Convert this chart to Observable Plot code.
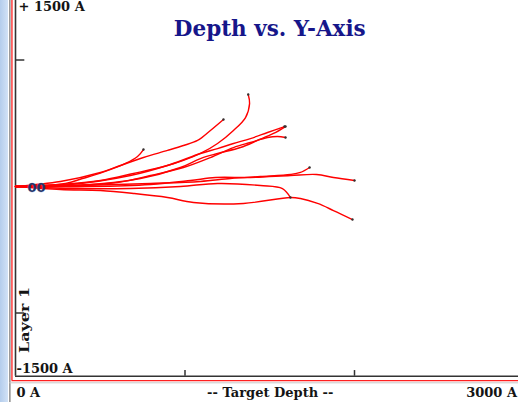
<!DOCTYPE html>
<html>
<head>
<meta charset="utf-8">
<script src="https://cdn.jsdelivr.net/npm/d3@7"></script>
<script src="https://cdn.jsdelivr.net/npm/@observablehq/plot@0.6"></script>
<style>
  html, body { margin: 0; padding: 0; }
  body {
    width: 518px; height: 402px; overflow: hidden;
    background: linear-gradient(to right, #b4cdec 0px, #d2e2f6 8px, #ffffff 8px);
  }
  #chart svg { display: block; background: transparent; }
</style>
</head>
<body>
<div id="chart"></div>
<script>
// Series: target depth (x, Å) and Y offset (Å)
const seriesNames = ["A","B","C","D","E","F","H","I","K","J"];
const depthA = [0, 265, 501, 696, 897, 991, 1091, 1192, 1286, 1357, 1381, 1373];
const yA     = [0, 16, 47, 103, 166, 206, 261, 340, 443, 545, 656, 727];
const depthB = [0, 265, 501, 619, 755, 897, 991, 1074, 1150, 1227];
const yB     = [0, 40, 111, 166, 229, 285, 324, 364, 443, 530];
const depthC = [0, 295, 395, 513, 649, 720, 755];
const yC     = [0, 24, 63, 111, 182, 237, 292];
const depthD = [0, 324, 678, 914, 1091, 1192, 1286, 1386, 1487, 1587];
const yD     = [0, 16, 87, 174, 261, 300, 340, 379, 427, 474];
const depthE = [0, 383, 737, 973, 1091, 1192, 1327, 1428, 1522, 1593];
const yE     = [0, 8, 63, 150, 221, 261, 308, 364, 419, 474];
const depthF = [0, 602, 796, 991, 1150, 1286, 1386, 1487, 1546, 1593];
const yF     = [0, 32, 87, 150, 229, 308, 348, 387, 395, 387];
const depthH = [0, 383, 796, 1091, 1268, 1445, 1622, 1681, 1735];
const yH     = [0, 8, 24, 40, 63, 79, 95, 111, 150];
const depthI = [0, 442, 796, 1032, 1180, 1386, 1622, 1776, 1876, 2000];
const yI     = [0, 0, 16, 47, 71, 71, 87, 95, 71, 47];
const depthK = [0, 324, 678, 973, 1192, 1445, 1575, 1622];
const yK     = [0, -16, -16, 0, 24, 8, -16, -87];
const depthJ = [0, 265, 501, 696, 897, 1050, 1345, 1622, 1681, 1782, 1876, 1988];
const yJ     = [0, -24, -32, -55, -87, -126, -134, -87, -95, -134, -190, -261];

// Axis ticks and labels
const yTicks = [1000, 0, -1000];
const xTicks = [1000, 2000];
const titleText = "Depth vs. Y-Axis";
const yTopLabel = "+ 1500 A";
const yZeroLabel = "00";
const yBottomLabel = "-1500 A";
const layerLabel = "Layer 1";
const xLeftLabel = "0 A";
const xTitle = "-- Target Depth --";
const xRightLabel = "3000 A";

const depths = {A: depthA, B: depthB, C: depthC, D: depthD, E: depthE, F: depthF, H: depthH, I: depthI, K: depthK, J: depthJ};
const ys = {A: yA, B: yB, C: yC, D: yD, E: yE, F: yF, H: yH, I: yI, K: yK, J: yJ};
const rows = [];
for (const s of seriesNames) {
  depths[s].forEach((d, i) => rows.push({series: s, depth: d, y: ys[s][i]}));
}

const serif = "'DejaVu Serif', serif";
const ink = "#141414";

const chart = Plot.plot({
  width: 518,
  height: 402,
  style: {background: "transparent", overflow: "hidden"},
  x: {domain: [0, 3000], range: [15, 523.5], axis: null},
  y: {domain: [-1500, 1500], range: [375.75, -3.75], axis: null},
  marks: [
    // window frame lines
    Plot.ruleX([-33], {y1: -1720, y2: 1500, stroke: "#555", strokeWidth: 1}),
    Plot.ruleX([-21], {y1: -1534, y2: 1500, stroke: "#ff2020", strokeWidth: 1.3}),
    Plot.ruleY([-1534], {x1: -21, x2: 3100, stroke: "#ff2020", strokeWidth: 1.3}),
    Plot.ruleY([-1552], {x1: -33, x2: 3100, stroke: "#c8c8c8", strokeWidth: 1}),
    // axes
    Plot.ruleX([0], {y1: -1500, y2: 1500, stroke: "#333", strokeWidth: 1.6}),
    Plot.ruleY([-1500], {x1: 0, x2: 3100, stroke: "#333", strokeWidth: 1.6}),
    Plot.ruleY(yTicks, {x1: 0, x2: 55, stroke: "#333", strokeWidth: 1.5}),
    Plot.ruleX(xTicks, {y1: -1500, y2: -1455, stroke: "#333", strokeWidth: 1.5}),
    // data
    Plot.line(rows, {x: "depth", y: "y", z: "series", stroke: "#ff0000", strokeWidth: 1.4, curve: "catmull-rom"}),
    Plot.dot(rows, Plot.selectLast({x: "depth", y: "y", z: "series", r: 1.2, fill: "#333", stroke: null})),
    // labels
    Plot.text([yZeroLabel], {x: 0, y: 0, text: d => d, dx: 21, dy: 1, fontFamily: "'DejaVu Sans', sans-serif", fontWeight: "bold", fontSize: 13, fill: "#24346a", stroke: "#9db3de", strokeWidth: 0.3}),
    Plot.text([yTopLabel], {x: 0, y: 1500, text: d => d, dx: 3, dy: 10, textAnchor: "start", fontFamily: serif, fontWeight: "bold", fontSize: 13, fill: ink}),
    Plot.text([yBottomLabel], {x: 0, y: -1500, text: d => d, dx: 1, dy: -7.5, textAnchor: "start", fontFamily: serif, fontWeight: "bold", fontSize: 13, fill: ink}),
    Plot.text([layerLabel], {x: 0, y: -1000, text: d => d, dx: 9.5, dy: 7, rotate: -90, fontFamily: serif, fontWeight: "bold", fontSize: 13, fill: ink, className: "layer-label"}),
    Plot.text([xLeftLabel], {x: 0, y: -1500, text: d => d, dx: 1, dy: 16.5, textAnchor: "start", fontFamily: serif, fontWeight: "bold", fontSize: 13, fill: ink}),
    Plot.text([xTitle], {x: 1500, y: -1500, text: d => d, dx: 0.5, dy: 16.5, fontFamily: serif, fontWeight: "bold", fontSize: 13, fill: ink}),
    Plot.text([xRightLabel], {x: 3000, y: -1500, text: d => d, dx: -7, dy: 16.5, textAnchor: "end", fontFamily: serif, fontWeight: "bold", fontSize: 13, fill: ink}),
    Plot.text([titleText], {x: 1500, y: 1500, text: d => d, dy: 32, fontFamily: serif, fontWeight: "bold", fontSize: 21.5, fill: "#16168a"})
  ]
});
// stretch the rotated layer label to the reference's length
d3.select(chart).selectAll(".layer-label text")
  .attr("textLength", 66)
  .attr("lengthAdjust", "spacingAndGlyphs");
document.getElementById("chart").appendChild(chart);
</script>
</body>
</html>
